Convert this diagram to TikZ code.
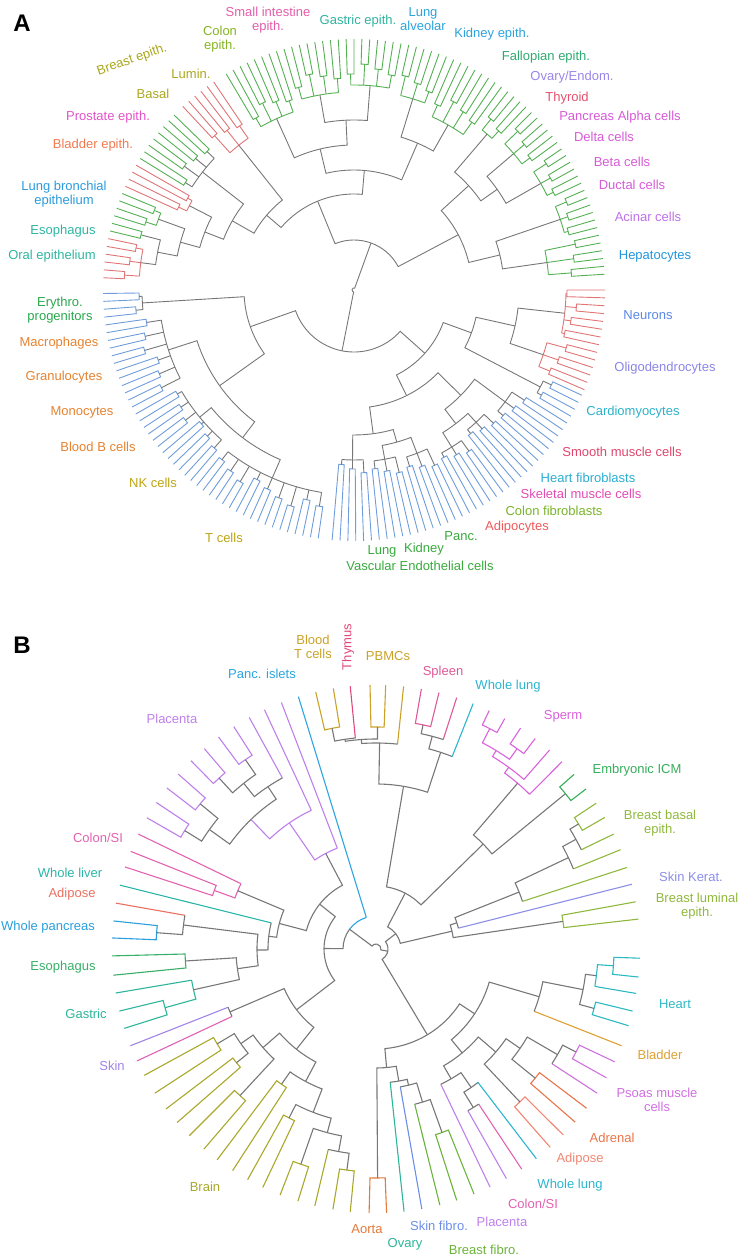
\documentclass[tikz,border=0pt]{standalone}
\usepackage{fontspec}
\setmainfont{Liberation Sans}
\definecolor{agreen}{HTML}{55B054}
\definecolor{ared}{HTML}{E07575}
\definecolor{ablue}{HTML}{6F9DDC}
\definecolor{agray}{HTML}{777777}
\definecolor{cSI}{HTML}{E35DAA}
\definecolor{cGas}{HTML}{2EB39E}
\definecolor{cLungA}{HTML}{2BA3DC}
\definecolor{cFal}{HTML}{2EAA70}
\definecolor{cOva}{HTML}{9986E8}
\definecolor{cThy}{HTML}{E4506E}
\definecolor{cPan}{HTML}{D65AD8}
\definecolor{cAci}{HTML}{BF70E6}
\definecolor{cHep}{HTML}{2196DC}
\definecolor{cNeu}{HTML}{5A88E6}
\definecolor{cOli}{HTML}{8A86E6}
\definecolor{cCar}{HTML}{2BB2C8}
\definecolor{cSmo}{HTML}{E0456C}
\definecolor{cHfb}{HTML}{2AADD3}
\definecolor{cSkm}{HTML}{E34BB4}
\definecolor{cCfb}{HTML}{7AB42A}
\definecolor{cAdi}{HTML}{EE5A5A}
\definecolor{cEnd}{HTML}{38AA3C}
\definecolor{cTc}{HTML}{BCA512}
\definecolor{cMye}{HTML}{E5822F}
\definecolor{cEry}{HTML}{2AA84E}
\definecolor{cOral}{HTML}{2DB5A0}
\definecolor{cLbr}{HTML}{2B9ADC}
\definecolor{cBla}{HTML}{F07A50}
\definecolor{cPro}{HTML}{E253CB}
\definecolor{cBre}{HTML}{ABA71E}
\definecolor{cCol}{HTML}{86B422}
\definecolor{bgray}{HTML}{777777}
\definecolor{cPlac}{HTML}{BE80EA}
\definecolor{cPancIs}{HTML}{2AA5DF}
\definecolor{cBloodT}{HTML}{C9A227}
\definecolor{cThymus}{HTML}{E04878}
\definecolor{cSpleen}{HTML}{DF5898}
\definecolor{cWLung}{HTML}{2BB5D0}
\definecolor{cSperm}{HTML}{DA62DA}
\definecolor{cICM}{HTML}{35AD5A}
\definecolor{cBrBas}{HTML}{8FB83C}
\definecolor{cSkKer}{HTML}{8C8EE8}
\definecolor{cHeart}{HTML}{2DB8C2}
\definecolor{cBladder}{HTML}{DDA032}
\definecolor{cPsoas}{HTML}{D070E0}
\definecolor{cAdrenal}{HTML}{E8744A}
\definecolor{cAdipB}{HTML}{F08672}
\definecolor{cColonB}{HTML}{E262B0}
\definecolor{cSkFib}{HTML}{6C8EE8}
\definecolor{cOvary}{HTML}{2DB59A}
\definecolor{cBrFib}{HTML}{6CB33A}
\definecolor{cAorta}{HTML}{E27A3A}
\definecolor{cBrain}{HTML}{A9A82A}
\definecolor{cSkinL}{HTML}{A084E8}
\definecolor{cSkinP}{HTML}{E060B8}
\definecolor{cGastric}{HTML}{2DB59A}
\definecolor{cEsoph}{HTML}{38AF68}
\definecolor{cPanc}{HTML}{2A9FDC}
\definecolor{cAdipL}{HTML}{EA7060}
\definecolor{cLiver}{HTML}{2DB5A8}
\tikzset{
  lbl/.style={font=\fontsize{13}{14.5}\selectfont, align=center, inner sep=0pt},
  panel/.style={font=\fontsize{24}{24}\selectfont\bfseries, inner sep=0pt}
}
% leaf, clade, pair of leaves
\newcommand{\lf}[3]{\draw[#1] (#2:\Rad) -- (#2:#3);}
\newcommand{\cl}[6]{\draw[#1] (#2:#5) -- (#2:#4) arc[start angle=#2,end angle=#3,radius=#4] -- (#3:#6);}
\newcommand{\pr}[4]{\cl{#1}{#2}{#3}{#4}{\Rad}{\Rad}}
% leaf colour, spine colour, first angle, pairs, inner radius, spine radius
\newcommand{\comb}[6]{%
  \foreach \k in {1,...,#4}{%
    \pgfmathsetmacro{\angA}{#3+(2*\k-2)*\st}
    \pgfmathsetmacro{\angB}{\angA+\st}
    \pgfmathsetmacro{\angM}{\angA+0.5*\st}
    \pgfmathsetmacro{\radP}{#5-2*mod(5*\k,7)}
    \pr{#1}{\angA}{\angB}{\radP}
    \draw[#2] (\angM:\radP) -- (\angM:#6);
  }
  \pgfmathsetmacro{\angS}{#3+0.5*\st}
  \pgfmathsetmacro{\angE}{#3+(2*#4-1.5)*\st}
  \draw[#2] (\angS:#6) arc[start angle=\angS,end angle=\angE,radius=#6];
}
\begin{document}
\begin{tikzpicture}[x=1pt,y=1pt]
\useasboundingbox (0,0) rectangle (739,1259);

\node[panel] (pA) at (22,1236) {A};
\begin{scope}[shift={(354,969)},line width=0.9pt]
\def\Rad{251}
\def\st{1.8}
\comb{ablue}{agray}{-95}{3}{185}{170}
\comb{ablue}{agray}{-84.2}{3}{190}{172}
\comb{ablue}{agray}{-73.4}{3}{195}{175}
\cl{agray}{-79.7}{-68.9}{158}{172}{175}
\cl{agray}{-90.5}{-74.3}{145}{170}{158}
\comb{ablue}{agray}{-62.6}{3}{200}{185}
\comb{ablue}{agray}{-51.8}{3}{195}{180}
\comb{ablue}{agray}{-41}{3}{205}{188}
\cl{agray}{-58.1}{-47.3}{168}{185}{180}
\cl{agray}{-52.7}{-36.5}{150}{168}{188}
\cl{agray}{-82.4}{-44.6}{118}{145}{150}
\comb{ablue}{agray}{-30.2}{2}{225}{210}
\comb{ared}{ared}{-23.4}{3}{222}{200}
\comb{ared}{ared}{-12.6}{4}{225}{212}
\cl{agray}{-18.9}{-6.3}{165}{200}{212}
\cl{agray}{-27.5}{-12.6}{125}{210}{165}
\cl{agray}{-63.5}{-20.05}{95}{118}{125}
\comb{ablue}{agray}{180.8}{2}{225}{212}
\comb{ablue}{agray}{188}{6}{220}{195}
\comb{ablue}{agray}{209.6}{6}{215}{200}
\comb{ablue}{agray}{231.2}{9}{225}{205}
\cl{agray}{219.5}{246.5}{185}{200}{205}
\cl{agray}{197.9}{233}{165}{195}{185}
\cl{agray}{183.5}{215.45}{110}{212}{165}
\cl{agray}{199.5}{318.2}{62}{110}{95}
\comb{agreen}{agreen}{3.6}{3}{228}{195}
\comb{agreen}{agreen}{14.4}{3}{232}{218}
\comb{agreen}{agreen}{25.2}{3}{232}{215}
\comb{agreen}{agreen}{36}{3}{230}{210}
\comb{agreen}{agreen}{46.8}{2}{225}{205}
\cl{agray}{8.1}{18.9}{150}{195}{218}
\cl{agray}{29.7}{40.5}{175}{215}{210}
\cl{agray}{35.1}{49.5}{155}{175}{205}
\cl{agray}{13.5}{42.3}{118}{150}{155}
\comb{agreen}{agreen}{54}{4}{215}{190}
\comb{agreen}{agreen}{68.4}{3}{222}{200}
\comb{agreen}{agreen}{79.2}{4}{228}{205}
\comb{agreen}{agreen}{93.6}{4}{222}{198}
\comb{agreen}{agreen}{108}{4}{210}{188}
\cl{agray}{60.3}{72.9}{160}{190}{200}
\cl{agray}{85.5}{99.9}{170}{205}{198}
\cl{agray}{92.7}{114.3}{145}{170}{188}
\cl{agray}{66.6}{103.5}{120}{160}{145}
\comb{ared}{ared}{124}{3}{210}{185}
\comb{agreen}{agray}{135.8}{4}{212}{192}
\comb{ared}{ared}{150.2}{2}{200}{185}
\comb{agreen}{agreen}{157.4}{2}{225}{208}
\comb{agreen}{agreen}{164.6}{1}{230}{218}
\comb{ared}{ared}{168.2}{3}{232}{215}
\cl{agray}{165.5}{172.7}{200}{218}{215}
\cl{agray}{160.1}{169.1}{180}{208}{200}
\cl{agray}{152.9}{164.6}{160}{185}{180}
\cl{agray}{142.1}{158.75}{140}{192}{160}
\cl{agray}{128.5}{150.4}{115}{185}{140}
\cl{agray}{85.05}{139.45}{96}{120}{115}
\cl{agray}{27.9}{112.25}{50}{118}{96}
\cl{agray}{70.1}{258.85}{2}{50}{62}
\end{scope}

\node[lbl,text=cSI] (aSI) at (268,1239) {Small intestine\\epith.};
\node[lbl,text=cGas] (aGas) at (358,1238) {Gastric epith.};
\node[lbl,text=cLungA] (aLungA) at (423,1240) {Lung\\alveolar};
\node[lbl,text=cLungA] (aKid) at (492,1225) {Kidney epith.};
\node[lbl,text=cFal] (aFal) at (546,1202) {Fallopian epith.};
\node[lbl,text=cOva] (aOva) at (572,1182) {Ovary/Endom.};
\node[lbl,text=cThy] (aThy) at (567,1161) {Thyroid};
\node[lbl,text=cPan] (aAlpha) at (620,1142) {Pancreas Alpha cells};
\node[lbl,text=cPan] (aDelta) at (604,1122) {Delta cells};
\node[lbl,text=cPan] (aBeta) at (622,1097) {Beta cells};
\node[lbl,text=cPan] (aDuct) at (632,1074) {Ductal cells};
\node[lbl,text=cAci] (aAci) at (648,1042) {Acinar cells};
\node[lbl,text=cHep] (aHep) at (655,1003) {Hepatocytes};
\node[lbl,text=cNeu] (aNeu) at (648,944) {Neurons};
\node[lbl,text=cOli] (aOli) at (665,891) {Oligodendrocytes};
\node[lbl,text=cCar] (aCar) at (633,847) {Cardiomyocytes};
\node[lbl,text=cSmo] (aSmo) at (622,807) {Smooth muscle cells};
\node[lbl,text=cHfb] (aHfb) at (588,781) {Heart fibroblasts};
\node[lbl,text=cSkm] (aSkm) at (581,765) {Skeletal muscle cells};
\node[lbl,text=cCfb] (aCfb) at (554,748) {Colon fibroblasts};
\node[lbl,text=cAdi] (aAdi) at (517,732) {Adipocytes};
\node[lbl,text=cEnd] (aPanc) at (461,723) {Panc.};
\node[lbl,text=cEnd] (aKidE) at (424,710) {Kidney};
\node[lbl,text=cEnd] (aLungE) at (382,708) {Lung};
\node[lbl,text=cEnd] (aVasc) at (420,693) {Vascular Endothelial cells};
\node[lbl,text=cTc] (aTc) at (224,721) {T cells};
\node[lbl,text=cTc] (aNK) at (153,776) {NK cells};
\node[lbl,text=cMye] (aBc) at (98,812) {Blood B cells};
\node[lbl,text=cMye] (aMono) at (82,847) {Monocytes};
\node[lbl,text=cMye] (aGran) at (64,882) {Granulocytes};
\node[lbl,text=cMye] (aMac) at (59,916) {Macrophages};
\node[lbl,text=cEry] (aEry) at (60,949) {Erythro.\\progenitors};
\node[lbl,text=cOral] (aOral) at (52,1003) {Oral epithelium};
\node[lbl,text=cOral] (aEso) at (63,1028) {Esophagus};
\node[lbl,text=cLbr] (aLbr) at (64,1065) {Lung bronchial\\epithelium};
\node[lbl,text=cBla] (aBla) at (93,1114) {Bladder epith.};
\node[lbl,text=cPro] (aPro) at (108,1142) {Prostate epith.};
\node[lbl,text=cBre] (aBas) at (153,1165) {Basal};
\node[lbl,text=cBre] (aLum) at (191,1185) {Lumin.};
\node[lbl,text=cBre,rotate=19] (aBre) at (132,1199) {Breast epith.};
\node[lbl,text=cCol] (aCol) at (220,1220) {Colon\\epith.};

\node[panel] (pB) at (22,614) {B};
\begin{scope}[shift={(376,310)},line width=1.1pt]
\def\Rad{264}
\pr{cAorta}{-91.5}{-87.7}{229}
\pr{cBrFib}{-72.2}{-68.2}{195}
\lf{cBrFib}{-76}{160}
\cl{bgray}{-76}{-70.2}{160}{160}{195}
\lf{cSkFib}{-80}{140}
\cl{bgray}{-80}{-73.1}{140}{140}{160}
\lf{cOvary}{-83.9}{134}
\cl{bgray}{-83.9}{-76.55}{134}{134}{140}
\cl{bgray}{-89.6}{-80.2}{119}{229}{134}
\lf{cPlac}{-60.4}{186}
\lf{cColonB}{-56.5}{186}
\cl{bgray}{-60.4}{-56.5}{186}{186}{186}
\lf{cWLung}{-52.6}{168}
\cl{bgray}{-58.45}{-52.6}{168}{186}{168}
\lf{cPlac}{-64.4}{150}
\cl{bgray}{-64.4}{-55.5}{150}{150}{168}
\pr{cAdipB}{-48.7}{-44.8}{210}
\pr{cAdrenal}{-41}{-37.1}{205}
\pr{cPsoas}{-29.2}{-25.3}{225}
\lf{cPsoas}{-33.1}{210}
\cl{bgray}{-33.1}{-27.25}{210}{210}{225}
\cl{bgray}{-39.05}{-30.2}{175}{205}{210}
\cl{bgray}{-46.75}{-34.6}{158}{210}{175}
\cl{bgray}{-59.95}{-40.7}{135}{150}{158}
\pr{cHeart}{-6.1}{-2}{238}
\lf{cHeart}{-9.7}{222}
\cl{cHeart}{-9.7}{-4.05}{222}{222}{238}
\pr{cHeart}{-16.9}{-13.6}{226}
\cl{bgray}{-15.25}{-6.9}{211}{226}{222}
\lf{cBladder}{-21.5}{170}
\cl{bgray}{-21.5}{-11.1}{170}{170}{211}
\cl{bgray}{-50.3}{-16.3}{118}{135}{170}
\cl{bgray}{-84.9}{-33.3}{100}{119}{118}
\pr{cBrBas}{6.5}{10.3}{189}
\lf{cSkKer}{14.2}{85}
\pr{cBrBas}{29.9}{33.5}{238}
\lf{cBrBas}{25.8}{228}
\cl{bgray}{25.8}{31.7}{228}{228}{238}
\lf{cBrBas}{22.1}{213}
\cl{bgray}{22.1}{28.75}{213}{213}{228}
\lf{cBrBas}{18}{154}
\cl{bgray}{18}{25.4}{154}{154}{213}
\cl{bgray}{14.2}{21.7}{85}{85}{154}
\cl{bgray}{8.4}{17.95}{78}{189}{85}
\pr{cICM}{37.3}{41.4}{245}
\pr{cSperm}{60.8}{64.6}{248}
\pr{cSperm}{52.9}{56.8}{245}
\cl{cSperm}{54.85}{62.7}{232}{245}{248}
\lf{cSperm}{48.9}{225}
\cl{cSperm}{48.9}{58.8}{225}{225}{232}
\lf{cSperm}{45.2}{218}
\cl{cSperm}{45.2}{53.85}{218}{218}{225}
\cl{bgray}{39.35}{49.5}{150}{245}{218}
\pr{cSpleen}{76.2}{80.1}{229}
\lf{cSpleen}{72.2}{220}
\cl{bgray}{72.2}{78.15}{220}{220}{229}
\lf{cWLung}{68.4}{207}
\cl{bgray}{68.4}{75.2}{207}{207}{220}
\pr{cBloodT}{99.3}{103.2}{225}
\lf{cThymus}{95.6}{212}
\cl{bgray}{95.6}{101.25}{212}{212}{225}
\pr{cBloodT}{87.9}{91.3}{222}
\cl{bgray}{89.6}{98.4}{210}{222}{212}
\lf{cBloodT}{84}{206}
\cl{bgray}{84}{94}{206}{206}{210}
\cl{bgray}{71.8}{89}{165}{207}{206}
\cl{bgray}{44.4}{80.4}{63}{150}{165}
\cl{bgray}{13.2}{62.4}{25}{78}{63}
\pr{cPlac}{146.3}{150.2}{225}
\pr{cPlac}{138.5}{142.4}{228}
\pr{cPlac}{130.6}{134.5}{232}
\pr{cPlac}{122.6}{126.6}{230}
\cl{bgray}{140.45}{148.25}{205}{228}{225}
\cl{bgray}{124.6}{132.55}{212}{230}{232}
\lf{cPlac}{118.7}{195}
\cl{bgray}{118.7}{128.6}{195}{195}{212}
\cl{bgray}{123.65}{144.35}{180}{195}{205}
\lf{cPlac}{115}{153}
\cl{cPlac}{115}{134}{153}{153}{180}
\lf{cPlac}{111}{108}
\cl{cPlac}{111}{124.5}{108}{108}{153}
\pr{cColonB}{158.3}{161.9}{172}
\lf{cColonB}{154.2}{150}
\cl{cColonB}{154.2}{160.1}{150}{150}{172}
\lf{cLiver}{166}{108}
\pr{cPanc}{173.9}{177.6}{220}
\lf{cAdipL}{170}{194}
\cl{bgray}{170}{175.75}{194}{194}{220}
\pr{cEsoph}{181.5}{185.7}{191}
\pr{cGastric}{193.6}{197.5}{219}
\lf{cGastric}{189.6}{187}
\cl{cGastric}{189.6}{195.55}{187}{187}{219}
\cl{bgray}{183.6}{192.6}{140}{191}{187}
\cl{bgray}{172.9}{188.1}{119}{194}{140}
\cl{bgray}{166}{180.5}{108}{108}{119}
\cl{bgray}{157.15}{173.25}{100}{150}{108}
\cl{bgray}{117.75}{165.2}{72}{108}{100}
\lf{cSkinL}{201.5}{159}
\lf{cSkinP}{205.1}{159}
\cl{bgray}{201.5}{205.1}{159}{159}{159}
\pr{cBrain}{208.6}{213.1}{185}
\pr{cBrain}{217.3}{221.1}{180}
\cl{bgray}{210.85}{219.2}{165}{185}{180}
\pr{cBrain}{225}{229.3}{200}
\cl{bgray}{215}{227.15}{150}{165}{200}
\pr{cBrain}{233}{237.1}{165}
\pr{cBrain}{240.9}{244.6}{190}
\pr{cBrain}{248.7}{252.8}{228}
\pr{cBrain}{260.6}{264.4}{223}
\lf{cBrain}{256.6}{206}
\cl{bgray}{256.6}{262.5}{206}{206}{223}
\cl{bgray}{250.75}{259.55}{190}{228}{206}
\cl{bgray}{242.75}{255.15}{175}{190}{190}
\cl{bgray}{235.05}{248.95}{150}{165}{175}
\cl{bgray}{221.1}{242}{128}{150}{150}
\cl{bgray}{203.3}{231.55}{100}{159}{128}
\cl{bgray}{141.5}{217.4}{52}{72}{100}
\lf{cPancIs}{107.1}{33}
\draw[cPancIs] (107.1:33) arc[start angle=107.1,end angle=143.3,radius=33];
\draw[bgray] (143.3:33) arc[start angle=143.3,end angle=179.45,radius=33] -- (179.45:52);
\cl{bgray}{37.8}{-59.1}{12}{25}{100}
\cl{bgray}{-10.65}{143.3}{5}{12}{33}
\end{scope}

\node[lbl,text=cBloodT] (bBloodT) at (313,612) {Blood\\T cells};
\node[lbl,text=cThymus,rotate=90] (bThymus) at (348,612) {Thymus};
\node[lbl,text=cBloodT] (bPBMC) at (388,603) {PBMCs};
\node[lbl,text=cPancIs] (bPancIs) at (262,585) {Panc. islets};
\node[lbl,text=cPlac] (bPlac) at (172,540) {Placenta};
\node[lbl,text=cSpleen] (bSpleen) at (443,587) {Spleen};
\node[lbl,text=cWLung] (bWLung) at (508,573) {Whole lung};
\node[lbl,text=cSperm] (bSperm) at (563,543) {Sperm};
\node[lbl,text=cICM] (bICM) at (637,489) {Embryonic ICM};
\node[lbl,text=cBrBas] (bBrBas) at (660,436) {Breast basal\\epith.};
\node[lbl,text=cSkKer] (bSkKer) at (691,382) {Skin Kerat.};
\node[lbl,text=cBrBas] (bBrLum) at (697,353) {Breast luminal\\epith.};
\node[lbl,text=cHeart] (bHeart) at (675,255) {Heart};
\node[lbl,text=cBladder] (bBladder) at (660,204) {Bladder};
\node[lbl,text=cPsoas] (bPsoas) at (657,159) {Psoas muscle\\cells};
\node[lbl,text=cAdrenal] (bAdrenal) at (612,121) {Adrenal};
\node[lbl,text=cAdipB] (bAdipR) at (580,100) {Adipose};
\node[lbl,text=cWLung] (bWLungR) at (570,74) {Whole lung};
\node[lbl,text=cColonB] (bColonR) at (533,55) {Colon/SI};
\node[lbl,text=cPlac] (bPlacR) at (502,37) {Placenta};
\node[lbl,text=cBrFib] (bBrFib) at (484,9) {Breast fibro.};
\node[lbl,text=cSkFib] (bSkFib) at (439,33) {Skin fibro.};
\node[lbl,text=cOvary] (bOvary) at (405,15) {Ovary};
\node[lbl,text=cAorta] (bAorta) at (367,30) {Aorta};
\node[lbl,text=cBrain] (bBrain) at (205,72) {Brain};
\node[lbl,text=cSkinL] (bSkin) at (112,193) {Skin};
\node[lbl,text=cGastric] (bGastric) at (86,245) {Gastric};
\node[lbl,text=cEsoph] (bEsoph) at (63,292) {Esophagus};
\node[lbl,text=cPanc] (bPanc) at (48,332) {Whole pancreas};
\node[lbl,text=cAdipL] (bAdipL) at (72,365) {Adipose};
\node[lbl,text=cLiver] (bLiver) at (70,386) {Whole liver};
\node[lbl,text=cColonB] (bColonL) at (98,421) {Colon/SI};
\end{tikzpicture}
\end{document}
